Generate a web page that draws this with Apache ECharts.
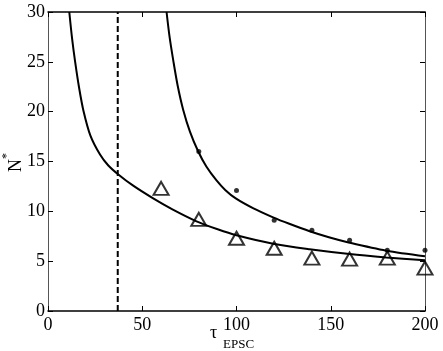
<!DOCTYPE html>
<html>
<head>
<meta charset="utf-8">
<script src="https://cdn.jsdelivr.net/npm/echarts@6/dist/echarts.min.js"></script>
<style>
	html, body { margin: 0; padding: 0; background: #fff; }
	#chart { width: 443px; height: 351px; }
</style>
</head>
<body>
<div id="chart"></div>
<script>
"use strict";

var xTicks = [0, 50, 100, 150, 200];
var yTicks = [0, 5, 10, 15, 20, 25, 30];

// tau values for the measured points
var tauPoints = [60, 80, 100, 120, 140, 160, 180, 200];
var triangleN = [12.3, 9.2, 7.3, 6.3, 5.3, 5.2, 5.3, 4.3];
var dotTau = [80, 100, 120, 140, 160, 180, 200];
var dotN = [16.0, 12.1, 9.1, 8.1, 7.1, 6.1, 6.1];

// curves
var lowerTau = [11.3, 12.8, 14.4, 16.5, 18.8, 22.5, 27.6, 32, 37.3, 45, 55.8, 66, 78.8, 90, 100, 119.4, 138.8, 160, 179.4, 200];
var lowerN = [30, 27.3, 25, 22.4, 20.1, 17.6, 15.7, 14.6, 13.7, 12.6, 11.3, 10.2, 9.0, 8.2, 7.6, 6.75, 6.2, 5.72, 5.38, 5.08];
var upperTau = [62.9, 64.5, 66.4, 68.8, 71.7, 75.3, 79.7, 84, 89.4, 94, 99.6, 109, 119.4, 128, 138.8, 149, 160, 179.4, 200];
var upperN = [30, 27.5, 25.2, 22.6, 20.2, 18.0, 16.0, 14.5, 13.1, 12.15, 11.3, 10.3, 9.4, 8.75, 8.0, 7.4, 6.85, 6.05, 5.5];

var dashTau = 37;

var font = '"Liberation Serif", "Times New Roman", serif';

function pairs(xs, ys) {
	var out = [];
	for (var i = 0; i < xs.length; i++) {
		out.push([xs[i], ys[i]]);
	}
	return out;
}

var myChart = echarts.init(document.getElementById('chart'), null, { renderer: 'canvas' });

function axis(pos, lineColor, lineWidth, showLabel, ticks, margin) {
	return {
		type: 'value',
		position: pos,
		min: ticks[0],
		max: ticks[ticks.length - 1],
		interval: ticks[1] - ticks[0],
		splitLine: { show: false },
		axisLine: { onZero: false, lineStyle: { color: lineColor, width: lineWidth } },
		axisTick: { inside: true, length: 5, lineStyle: { color: '#000', width: 1 } },
		axisLabel: { show: showLabel, fontFamily: font, fontSize: 18, color: '#000', margin: margin }
	};
}

var option = {
	animation: false,
	backgroundColor: '#fff',
	grid: { left: 48, right: 18, top: 12, bottom: 40 },
	xAxis: [
		axis('bottom', '#000', 1.5, true, xTicks, 5),
		axis('top', '#000', 1.5, false, xTicks, 5)
	],
	yAxis: [
		axis('left', '#555', 1, true, yTicks, 3),
		axis('right', '#555', 1, false, yTicks, 3)
	],
	graphic: [
		{
			type: 'text', left: 210, top: 324,
			style: { text: 'τ', font: '18px ' + font, fill: '#000' }
		},
		{
			type: 'text', left: 223, top: 338,
			style: { text: 'EPSC', font: '13px ' + font, fill: '#000' }
		},
		{
			type: 'text', x: 7, y: 172, rotation: Math.PI / 2,
			style: { text: 'N', font: '18px ' + font, fill: '#000' }
		},
		{
			type: 'text', x: 1, y: 159, rotation: Math.PI / 2,
			style: { text: '*', font: '12px ' + font, fill: '#000' }
		}
	],
	series: [
		{
			type: 'line',
			data: [[dashTau, yTicks[0]], [dashTau, yTicks[yTicks.length - 1]]],
			symbol: 'none',
			lineStyle: { color: '#000', width: 2, type: [6, 3] },
			silent: true
		},
		{
			type: 'line',
			data: pairs(lowerTau, lowerN),
			symbol: 'none',
			smooth: 0.3,
			lineStyle: { color: '#000', width: 2 },
			silent: true
		},
		{
			type: 'line',
			data: pairs(upperTau, upperN),
			symbol: 'none',
			smooth: 0.3,
			lineStyle: { color: '#000', width: 2 },
			silent: true
		},
		{
			type: 'scatter',
			data: pairs(tauPoints, triangleN),
			symbol: 'triangle',
			symbolSize: [15, 13],
			itemStyle: { color: 'rgba(0,0,0,0)', borderColor: '#000', borderWidth: 2 },
			silent: true
		},
		{
			type: 'scatter',
			data: pairs(dotTau, dotN),
			symbol: 'circle',
			symbolSize: 5,
			itemStyle: { color: '#000' },
			silent: true
		}
	]
};

myChart.setOption(option);
</script>
</body>
</html>
